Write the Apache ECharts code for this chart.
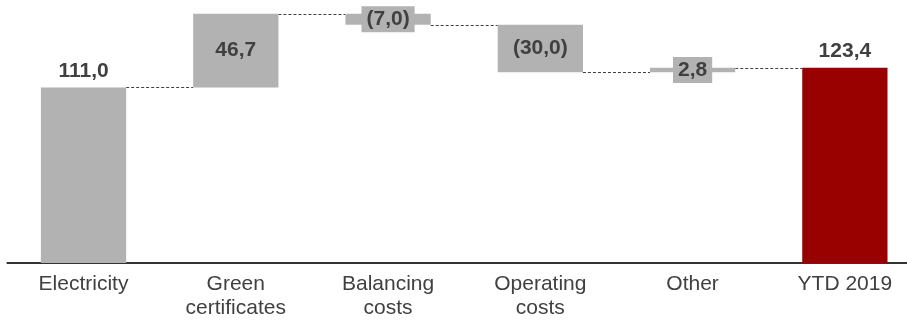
<!DOCTYPE html>
<html>
<head>
<meta charset="utf-8">
<script src="https://cdn.jsdelivr.net/npm/echarts@6/dist/echarts.min.js"></script>
<style>
  html, body { margin: 0; padding: 0; background: #ffffff; overflow: hidden; }
  #wrap { width: 907px; height: 320px; overflow: hidden; }
  /* the plot runs a little past the right edge, so the axis line bleeds off */
  #chart { width: 921px; height: 320px; }
</style>
</head>
<body>
<div id="wrap"><div id="chart"></div></div>
<script>
// Bridge from electricity revenue to the YTD 2019 result
const categories = ['Electricity', 'Green\ncertificates', 'Balancing\ncosts', 'Operating\ncosts', 'Other', 'YTD 2019'];
const values = [111.0, 46.7, -7.0, -30.0, 2.8, 123.4];
const kinds = ['total', 'delta', 'delta', 'delta', 'delta', 'total'];
const valueLabels = ['111,0', '46,7', '(7,0)', '(30,0)', '2,8', '123,4'];

const GREY = '#b2b2b2';
const RED = '#990000';
const TEXT = '#404040';
const FONT = '"Liberation Sans", Arial, Helvetica, sans-serif';
const BAR_RATIO = 0.56;

// Floating bar geometry: invisible offset + visible segment
const offsets = [];
const heights = [];
const levels = [];
let running = 0;
values.forEach((v, i) => {
  if (kinds[i] === 'total') {
    offsets.push(0);
    heights.push(v);
    running = v;
  } else {
    const start = running;
    const end = running + v;
    offsets.push(Math.min(start, end));
    heights.push(Math.abs(v));
    running = end;
  }
  levels.push(running);
});

const labelFor = (i) => {
  const base = {
    show: true,
    color: TEXT,
    fontFamily: FONT,
    fontWeight: 'bold',
    fontSize: 21,
    formatter: () => valueLabels[i]
  };
  if (kinds[i] === 'total') {
    return Object.assign(base, { position: 'top', distance: 6 });
  }
  if (heights[i] < 15) {
    return Object.assign(base, {
      position: 'inside',
      backgroundColor: GREY,
      padding: [3, 5, 2, 5]
    });
  }
  return Object.assign(base, { position: 'inside' });
};

const visibleData = heights.map((h, i) => ({
  value: h,
  itemStyle: { color: i === heights.length - 1 ? RED : GREY },
  label: labelFor(i)
}));

// Dashed connectors between neighbouring bars at each running level
const connectorData = levels.slice(0, -1).map((lv, i) => [i, lv]);

const chart = echarts.init(document.getElementById('chart'), null, { renderer: 'canvas' });
chart.setOption({
  animation: false,
  backgroundColor: '#ffffff',
  grid: { left: 7.4, right: 0, top: 10, bottom: 57, containLabel: false },
  xAxis: {
    type: 'category',
    data: categories,
    axisLine: { show: true, lineStyle: { color: '#333333', width: 2 } },
    axisTick: { show: false },
    axisLabel: {
      color: TEXT,
      fontFamily: FONT,
      fontSize: 21,
      lineHeight: 24,
      margin: 9,
      interval: 0
    }
  },
  yAxis: {
    type: 'value',
    min: 0,
    max: 160,
    show: false,
    splitLine: { show: false }
  },
  series: [
    {
      name: 'offset',
      type: 'bar',
      stack: 'bridge',
      barWidth: (BAR_RATIO * 100) + '%',
      itemStyle: { color: 'transparent' },
      emphasis: { disabled: true },
      data: offsets
    },
    {
      name: 'value',
      type: 'bar',
      stack: 'bridge',
      barWidth: (BAR_RATIO * 100) + '%',
      emphasis: { disabled: true },
      data: visibleData
    },
    {
      name: 'connector',
      type: 'custom',
      z: 1,
      renderItem: (params, api) => {
        const idx = api.value(0);
        const lv = api.value(1);
        const p0 = api.coord([idx, lv]);
        const p1 = api.coord([idx + 1, lv]);
        const band = api.size([1, 0])[0];
        const half = band * BAR_RATIO / 2;
        const y = Math.round(p0[1]) + 0.5;
        return {
          type: 'line',
          shape: { x1: p0[0] + half, y1: y, x2: p1[0] - half, y2: y },
          style: { stroke: '#404040', lineWidth: 1, lineDash: [3, 2] }
        };
      },
      data: connectorData
    }
  ]
});
</script>
</body>
</html>
